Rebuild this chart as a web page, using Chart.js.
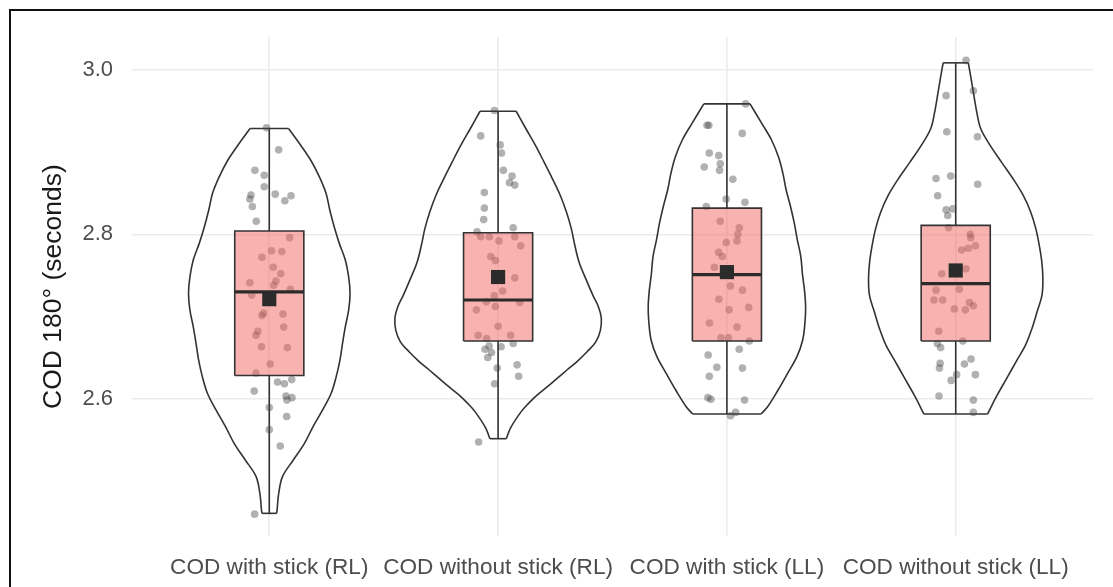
<!DOCTYPE html>
<html lang="en">
<head>
<meta charset="UTF-8">
<title>COD 180° by condition</title>
<script src="https://cdn.jsdelivr.net/npm/chart.js"></script>
<style>
  html, body { margin: 0; padding: 0; background: #fff; }
  #wrap { width: 1113px; height: 587px; }
</style>
</head>
<body>
<div id="wrap"><canvas id="chart" width="1113" height="587"></canvas></div>
<script>
// categories and axis ticks
const categories = ['COD with stick (RL)', 'COD without stick (RL)', 'COD with stick (LL)', 'COD without stick (LL)'];
const yTicks = [2.6, 2.8, 3.0];

// box plot statistics (seconds)
const q1 = [2.628, 2.670, 2.670, 2.670];
const medians = [2.730, 2.720, 2.751, 2.740];
const q3 = [2.804, 2.802, 2.832, 2.811];
const means = [2.721, 2.748, 2.754, 2.756];
const whiskerLo = [2.460, 2.551, 2.581, 2.581];
const whiskerHi = [2.929, 2.950, 2.959, 3.009];

// violin outlines: levels (seconds) and half widths (in category units)
const violinY = [
  [2.929, 2.911, 2.890, 2.870, 2.850, 2.829, 2.809, 2.789, 2.769, 2.748, 2.728, 2.708, 2.687, 2.667, 2.647, 2.626, 2.606, 2.586, 2.566, 2.545, 2.525, 2.505, 2.484, 2.464, 2.460],
  [2.950, 2.929, 2.909, 2.888, 2.868, 2.848, 2.827, 2.807, 2.787, 2.766, 2.746, 2.726, 2.712, 2.698, 2.683, 2.669, 2.657, 2.645, 2.635, 2.6245, 2.614, 2.604, 2.594, 2.584, 2.564, 2.551],
  [2.959, 2.935, 2.915, 2.894, 2.874, 2.854, 2.834, 2.813, 2.793, 2.773, 2.752, 2.732, 2.712, 2.692, 2.671, 2.651, 2.631, 2.610, 2.590, 2.581],
  [3.009, 2.990, 2.970, 2.949, 2.929, 2.909, 2.888, 2.868, 2.848, 2.827, 2.807, 2.787, 2.767, 2.746, 2.726, 2.706, 2.685, 2.665, 2.645, 2.625, 2.604, 2.581]
];
const violinW = [
  [0.084, 0.131, 0.182, 0.219, 0.248, 0.265, 0.284, 0.306, 0.332, 0.347, 0.353, 0.347, 0.332, 0.320, 0.309, 0.292, 0.270, 0.233, 0.192, 0.153, 0.105, 0.058, 0.041, 0.034, 0.032],
  [0.079, 0.121, 0.162, 0.201, 0.237, 0.271, 0.299, 0.320, 0.335, 0.354, 0.383, 0.414, 0.438, 0.451, 0.447, 0.427, 0.389, 0.345, 0.302, 0.258, 0.214, 0.170, 0.133, 0.101, 0.054, 0.036],
  [0.101, 0.153, 0.195, 0.226, 0.245, 0.259, 0.278, 0.295, 0.308, 0.323, 0.330, 0.339, 0.344, 0.341, 0.331, 0.306, 0.266, 0.223, 0.178, 0.149],
  [0.055, 0.067, 0.079, 0.092, 0.109, 0.149, 0.200, 0.250, 0.294, 0.328, 0.350, 0.365, 0.376, 0.381, 0.377, 0.356, 0.333, 0.305, 0.264, 0.224, 0.181, 0.139]
];

// individual observations and their horizontal jitter (category units)
const obsValues = [
  [2.930, 2.903, 2.878, 2.872, 2.858, 2.849, 2.847, 2.841, 2.848, 2.843, 2.834, 2.816, 2.796, 2.780, 2.779, 2.772, 2.760, 2.752, 2.743, 2.738, 2.741, 2.733, 2.726, 2.701, 2.704, 2.703, 2.687, 2.682, 2.677, 2.663, 2.662, 2.642, 2.631, 2.620, 2.618, 2.623, 2.609, 2.603, 2.601, 2.598, 2.589, 2.578, 2.562, 2.542, 2.459],
  [2.951, 2.920, 2.909, 2.899, 2.878, 2.871, 2.863, 2.860, 2.851, 2.832, 2.818, 2.808, 2.803, 2.797, 2.797, 2.792, 2.797, 2.786, 2.773, 2.768, 2.747, 2.725, 2.731, 2.718, 2.712, 2.717, 2.708, 2.688, 2.677, 2.673, 2.677, 2.664, 2.660, 2.656, 2.650, 2.663, 2.667, 2.637, 2.641, 2.627, 2.618, 2.547],
  [2.959, 2.933, 2.933, 2.923, 2.899, 2.896, 2.886, 2.882, 2.878, 2.867, 2.843, 2.839, 2.834, 2.816, 2.808, 2.800, 2.792, 2.790, 2.778, 2.773, 2.760, 2.737, 2.732, 2.721, 2.711, 2.708, 2.692, 2.687, 2.674, 2.674, 2.670, 2.660, 2.653, 2.638, 2.637, 2.627, 2.601, 2.599, 2.598, 2.583, 2.579],
  [3.012, 2.969, 2.975, 2.925, 2.919, 2.868, 2.871, 2.861, 2.847, 2.830, 2.831, 2.823, 2.808, 2.800, 2.796, 2.781, 2.783, 2.786, 2.752, 2.758, 2.732, 2.733, 2.720, 2.720, 2.717, 2.713, 2.709, 2.708, 2.682, 2.667, 2.662, 2.670, 2.643, 2.637, 2.648, 2.642, 2.629, 2.629, 2.622, 2.603, 2.598, 2.583]
];
const obsJitter = [
  [-0.012, 0.041, -0.063, -0.022, -0.022, 0.026, 0.095, 0.068, -0.080, -0.085, -0.074, -0.057, 0.089, 0.010, 0.055, -0.032, 0.017, 0.050, 0.029, 0.019, -0.085, 0.092, -0.077, -0.032, -0.025, 0.060, 0.063, -0.050, -0.058, -0.034, 0.079, 0.004, -0.058, 0.036, 0.066, 0.098, -0.066, 0.073, 0.099, 0.077, 0.000, 0.076, 0.000, 0.048, -0.064],
  [-0.016, -0.076, 0.009, 0.015, 0.023, 0.061, 0.050, 0.073, -0.060, -0.060, -0.063, 0.066, -0.092, -0.076, -0.038, 0.004, 0.073, 0.099, -0.032, -0.012, 0.073, -0.017, 0.020, -0.052, -0.012, 0.095, -0.095, 0.000, -0.087, -0.050, 0.055, -0.039, -0.057, -0.029, -0.045, 0.013, 0.066, -0.004, 0.083, 0.090, -0.015, -0.085],
  [0.082, -0.087, -0.079, 0.067, -0.077, -0.036, -0.029, -0.099, -0.032, 0.026, -0.003, 0.079, -0.090, -0.029, 0.054, 0.048, 0.044, -0.003, -0.036, -0.020, -0.055, 0.015, 0.068, -0.035, 0.095, 0.010, -0.076, 0.044, -0.026, 0.007, 0.098, 0.054, -0.082, -0.044, 0.068, -0.077, -0.083, -0.070, 0.077, 0.038, 0.016],
  [0.045, -0.042, 0.077, -0.039, 0.095, -0.086, -0.022, 0.096, -0.079, -0.042, -0.013, -0.035, -0.031, 0.063, 0.066, 0.026, 0.055, 0.086, -0.061, 0.045, -0.086, 0.016, -0.095, -0.057, 0.060, 0.077, -0.006, 0.042, -0.074, -0.080, -0.066, 0.031, -0.068, -0.071, 0.067, 0.038, 0.086, 0.004, -0.020, -0.073, 0.077, 0.077]
];

const BOX = 0.151;   // half width of the boxes
const LINE = '#333333';
const FONT = '"Liberation Sans", Arial, sans-serif';

Chart.defaults.font.family = FONT;

// white page with the dark frame on top and left
const framePlugin = {
  id: 'frame',
  beforeDraw(chart) {
    const ctx = chart.ctx;
    ctx.save();
    ctx.fillStyle = '#ffffff';
    ctx.fillRect(0, 0, chart.width, chart.height);
    ctx.restore();
  },
  afterDraw(chart) {
    const ctx = chart.ctx;
    ctx.save();
    ctx.strokeStyle = '#111111';
    ctx.lineWidth = 2;
    ctx.beginPath();
    ctx.moveTo(10, chart.height);
    ctx.lineTo(10, 10);
    ctx.lineTo(chart.width, 10);
    ctx.stroke();
    ctx.restore();
  }
};

function segment(points, width, color, order) {
  return { type: 'line', data: points, borderColor: color, borderWidth: width, pointRadius: 0, tension: 0, fill: false, order: order };
}

const datasets = [];
categories.forEach((name, i) => {
  const ys = violinY[i];
  const ws = violinW[i];
  const n = ys.length;

  // violin: two smooth sides plus flat ends
  datasets.push({
    type: 'line', data: ys.map((y, k) => ({ x: i + ws[k], y: y })),
    borderColor: LINE, borderWidth: 1.6, pointRadius: 0, tension: 0.35, fill: false, order: 6
  });
  datasets.push({
    type: 'line', data: ys.map((y, k) => ({ x: i - ws[k], y: y })),
    borderColor: LINE, borderWidth: 1.6, pointRadius: 0, tension: 0.35, fill: false, order: 6
  });
  datasets.push(segment([{ x: i - ws[0], y: ys[0] }, { x: i + ws[0], y: ys[0] }], 1.6, LINE, 6));
  datasets.push(segment([{ x: i - ws[n - 1], y: ys[n - 1] }, { x: i + ws[n - 1], y: ys[n - 1] }], 1.6, LINE, 6));

  // whiskers outside the box
  datasets.push(segment([{ x: i, y: whiskerHi[i] }, { x: i, y: q3[i] }], 1.6, LINE, 5));
  datasets.push(segment([{ x: i, y: q1[i] }, { x: i, y: whiskerLo[i] }], 1.6, LINE, 5));

  // jittered observations
  datasets.push({
    type: 'scatter', data: obsValues[i].map((y, k) => ({ x: i + obsJitter[i][k], y: y })),
    pointRadius: 3.8, backgroundColor: 'rgba(70,70,70,0.42)', borderWidth: 0, order: 4
  });

  // box (drawn over the points, semi transparent)
  datasets.push({
    type: 'line',
    data: [
      { x: i - BOX, y: q1[i] }, { x: i + BOX, y: q1[i] },
      { x: i + BOX, y: q3[i] }, { x: i - BOX, y: q3[i] }, { x: i - BOX, y: q1[i] }
    ],
    borderColor: LINE, borderWidth: 1.6, backgroundColor: 'rgba(241,104,98,0.5)',
    fill: 'shape', pointRadius: 0, tension: 0, order: 3
  });

  // median
  datasets.push(segment([{ x: i - BOX, y: medians[i] }, { x: i + BOX, y: medians[i] }], 3.2, '#2b2b2b', 2));

  // mean
  datasets.push({
    type: 'scatter', data: [{ x: i, y: means[i] }],
    pointStyle: 'rect', pointRadius: 10, backgroundColor: '#2b2b2b', borderWidth: 0, order: 1
  });
});

new Chart(document.getElementById('chart'), {
  type: 'scatter',
  data: { datasets: datasets },
  options: {
    responsive: false,
    animation: false,
    events: [],
    layout: { padding: { top: 37, right: 20, bottom: 0, left: 0 } },
    plugins: { legend: { display: false }, tooltip: { enabled: false } },
    scales: {
      x: {
        type: 'linear', min: -0.6, max: 3.6,
        afterBuildTicks: s => { s.ticks = categories.map((c, i) => ({ value: i })); },
        afterFit: s => { s.height = 51; },
        grid: { color: '#ebebeb', lineWidth: 1.6, drawTicks: false },
        border: { display: false },
        ticks: {
          autoSkip: false, maxRotation: 0, padding: 18, color: '#4d4d4d',
          font: { size: 22.6 }, callback: v => categories[v]
        }
      },
      y: {
        type: 'linear', min: 2.4324, max: 3.0405,
        afterBuildTicks: s => { s.ticks = yTicks.map(v => ({ value: v })); },
        afterFit: s => { s.width = 132; },
        grid: { color: '#ebebeb', lineWidth: 1.6, drawTicks: false },
        border: { display: false },
        ticks: { padding: 19, color: '#4d4d4d', font: { size: 22 }, callback: v => v.toFixed(1) },
        title: {
          display: true, text: 'COD 180° (seconds)', color: '#1a1a1a',
          font: { size: 26.5 }, padding: { top: 38, bottom: 0 }
        }
      }
    }
  },
  plugins: [framePlugin]
});
</script>
</body>
</html>
